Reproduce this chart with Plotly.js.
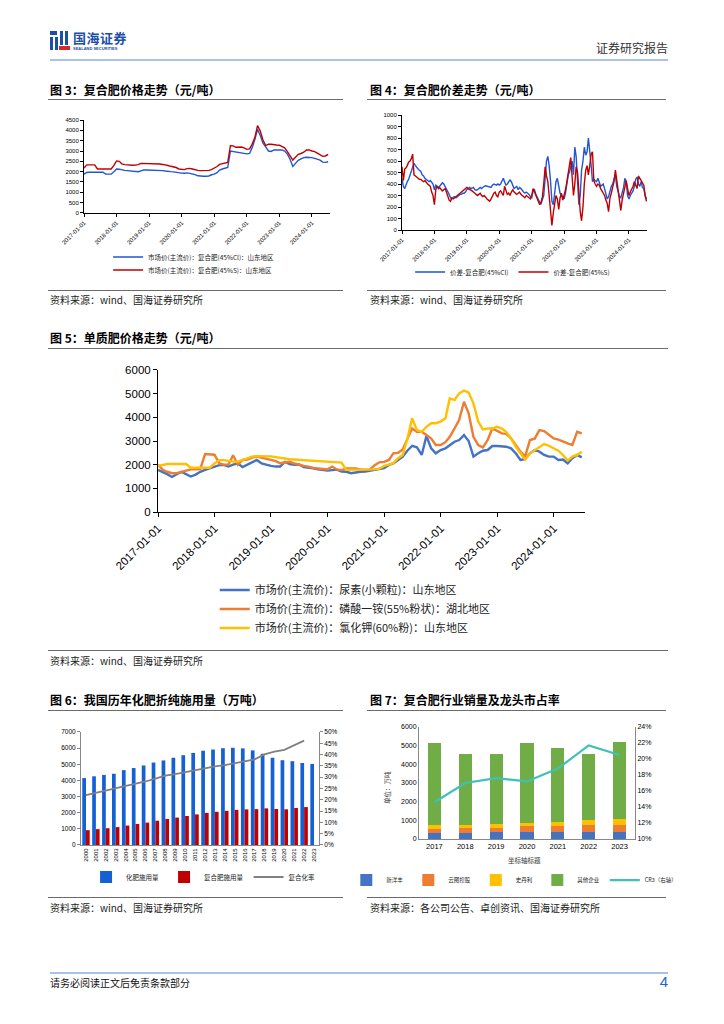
<!DOCTYPE html>
<html><head><meta charset="utf-8">
<script src="https://cdn.plot.ly/plotly-3.0.1.min.js"></script>
<style>
body{margin:0;width:724px;height:1024px;background:#fff;position:relative;overflow:hidden;font-family:'Noto Sans CJK SC',sans-serif;color:#000}
.abs{position:absolute;white-space:nowrap}
.title{font-weight:bold;font-size:12px;line-height:14px}
.rule{position:absolute;height:0;border-top:1px solid #6b6b6b}
.src{font-size:10px;line-height:12px;color:#222}
.chart{position:absolute}
</style></head><body>

<!-- header -->
<div class="abs" style="left:50px;top:31px;width:7px;height:4px;background:#1d4fa8"></div>
<div class="abs" style="left:50px;top:37px;width:3px;height:13px;background:#1d4fa8"></div>
<div class="abs" style="left:55px;top:37px;width:3px;height:13px;background:#1d4fa8"></div>
<div class="abs" style="left:60px;top:31px;width:3px;height:14px;background:#1d4fa8"></div>
<div class="abs" style="left:65px;top:31px;width:3px;height:14px;background:#1d4fa8"></div>
<div class="abs" style="left:59px;top:46px;width:11px;height:4px;background:#d8262e"></div>
<div class="abs" style="left:73px;top:30px;font-size:13px;font-weight:bold;color:#1d4fa8;line-height:15px;letter-spacing:0.5px">国海证券</div>
<div class="abs" style="left:73px;top:47px;font-size:4px;color:#1d4fa8;line-height:4px;font-family:'Liberation Sans';font-weight:bold">SEALAND SECURITIES</div>
<div class="abs" style="right:56px;top:41px;font-size:12px;line-height:14px;color:#333">证券研究报告</div>
<div class="rule" style="left:50px;top:59px;width:618px;border-top:2px solid #a8c2ea"></div>

<!-- titles -->
<div class="abs title" style="left:50px;top:83px">图 3：复合肥价格走势（元/吨）</div>
<div class="abs title" style="left:370px;top:83px">图 4：复合肥价差走势（元/吨）</div>
<div class="rule" style="left:48px;top:99px;width:295px"></div>
<div class="rule" style="left:367px;top:99px;width:299px"></div>
<div class="rule" style="left:48px;top:290px;width:295px"></div>
<div class="rule" style="left:367px;top:290px;width:299px"></div>
<div class="abs src" style="left:50px;top:294px">资料来源：wind、国海证券研究所</div>
<div class="abs src" style="left:370px;top:294px">资料来源：wind、国海证券研究所</div>

<div class="abs title" style="left:50px;top:331px">图 5：单质肥价格走势（元/吨）</div>
<div class="rule" style="left:48px;top:348px;width:620px"></div>
<div class="rule" style="left:48px;top:650px;width:620px"></div>
<div class="abs src" style="left:50px;top:655px">资料来源：wind、国海证券研究所</div>

<div class="abs title" style="left:50px;top:693px">图 6：我国历年化肥折纯施用量（万吨）</div>
<div class="abs title" style="left:370px;top:693px">图 7：复合肥行业销量及龙头市占率</div>
<div class="rule" style="left:48px;top:710px;width:295px"></div>
<div class="rule" style="left:367px;top:710px;width:299px"></div>
<div class="rule" style="left:48px;top:897px;width:295px"></div>
<div class="rule" style="left:367px;top:897px;width:299px"></div>
<div class="abs src" style="left:50px;top:902px">资料来源：wind、国海证券研究所</div>
<div class="abs src" style="left:370px;top:902px">资料来源：各公司公告、卓创资讯、国海证券研究所</div>

<div class="rule" style="left:50px;top:972px;width:618px;border-top:2px solid #a8c2ea"></div>
<div class="abs src" style="left:50px;top:977px;color:#111">请务必阅读正文后免责条款部分</div>
<div class="abs" style="right:56px;top:974px;font-size:15px;line-height:16px;color:#1f5fd6;font-family:'Liberation Sans'">4</div>

<div id="c3" class="chart" style="left:40px;top:108px;width:300px;height:180px"></div>
<div id="c4" class="chart" style="left:360px;top:108px;width:300px;height:180px"></div>
<div id="c5" class="chart" style="left:40px;top:355px;width:640px;height:290px"></div>
<div id="c6" class="chart" style="left:40px;top:715px;width:310px;height:180px"></div>
<div id="c7" class="chart" style="left:330px;top:715px;width:380px;height:180px"></div>

<script>
// ---------- data ----------
// Fig 3: monthly, 2017-01 .. 2024-07
const fig3Names = ['市场价(主流价)：复合肥(45%Cl)：山东地区', '市场价(主流价)：复合肥(45%S)：山东地区'];
const fig3Cl = [
 1880,1960,1970,1970,1970,1970,1970,1970,1880,1880,1880,2000,
 2130,2120,2080,2060,2050,2040,2020,2010,2000,2040,2080,2080,
 2080,2070,2060,2070,2060,2050,2030,2000,2000,1990,1960,1930,
 1930,1920,1940,1920,1900,1860,1800,1780,1780,1780,1790,1850,
 1880,1950,2080,2130,2160,2200,3000,2980,2960,2920,2900,2880,
 2860,2880,3150,3550,4050,3750,3380,3200,3000,2980,3050,3050,
 3050,3050,3000,2850,2600,2250,2400,2550,2620,2680,2700,2700,
 2680,2640,2600,2560,2460,2450,2480];
const fig3S = [
 2170,2330,2330,2330,2330,2130,2130,2130,2130,2130,2130,2290,
 2520,2500,2380,2340,2320,2320,2310,2320,2340,2400,2400,2400,
 2400,2400,2390,2380,2370,2350,2340,2300,2260,2240,2200,2130,
 2110,2100,2150,2160,2130,2080,2060,2050,2050,2050,2060,2100,
 2160,2250,2350,2380,2400,2450,3260,3250,3180,3190,3190,3150,
 3080,3100,3320,3650,4230,3970,3530,3260,3330,3330,3300,3290,
 3280,3210,3150,2970,2780,2560,2700,2840,2880,2940,3050,3050,
 3000,2970,2900,2810,2740,2760,2840];

// Fig 4: twice monthly (1st and 16th), 2017-01 .. 2024-07
const fig4Names = ['价差-复合肥(45%Cl)', '价差-复合肥(45%S)'];
const fig4Cl = [
 450,380, 360,400, 420,440, 480,520, 560,580, 560,540, 530,520, 510,480, 470,450, 440,430, 420,430, 410,400,
 350,390, 380,370, 380,400, 410,400, 380,360, 340,310, 280,270, 285,290, 280,290, 300,310, 310,320, 320,330,
 350,360, 370,360, 365,370, 350,345, 350,360, 370,360, 375,380, 385,380, 380,375, 370,390, 400,395, 390,400,
 390,400, 420,450, 420,390, 400,420, 435,420, 380,360, 370,380, 350,370, 360,340, 330,320, 330,320, 310,290,
 280,340, 350,310, 290,260, 240,230, 260,300, 450,600, 640,560, 420,250, 220,300, 420,450, 380,320, 300,280,
 270,320, 430,480, 500,560, 600,480, 720,640, 380,220, 300,520, 600,720, 650,680, 800,700, 560,420, 440,430,
 420,450, 410,380, 390,400, 360,300, 270,290, 340,380, 400,440, 480,380, 340,290, 280,320, 370,450, 420,300,
 270,300, 320,340, 380,440, 460,400, 380,420, 370,360, 300,270];
const fig4S = [
 550,430, 530,540, 560,590, 600,620, 660,480, 470,460, 450,440, 440,430, 420,430, 410,400, 390,380, 330,300,
 220,350, 380,360, 370,350, 340,350, 360,330, 300,260, 250,280, 270,280, 290,300, 310,320, 330,340, 350,360,
 370,360, 355,350, 340,330, 320,310, 300,310, 320,300, 290,300, 280,270, 260,250, 270,300, 320,330, 300,290,
 330,340, 320,300, 380,340, 310,320, 300,330, 350,330, 320,310, 320,330, 310,300, 290,280, 300,290, 280,270,
 300,360, 330,300, 270,250, 220,240, 290,400, 550,470, 420,300, 180,40, 150,230, 300,270, 180,280, 320,260,
 300,350, 420,480, 560,630, 420,300, 400,550, 500,300, 160,80, 200,400, 520,560, 480,560, 660,680, 430,400,
 380,400, 390,360, 340,320, 300,260, 230,160, 280,320, 360,420, 520,430, 300,230, 170,260, 330,400, 430,360,
 300,330, 350,380, 420,380, 360,470, 450,430, 420,390, 300,250];

// Fig 5: monthly, 2017-01 .. 2024-07
const fig5Names = ['市场价(主流价)：尿素(小颗粒)：山东地区', '市场价(主流价)：磷酸一铵(55%粉状)：湖北地区', '市场价(主流价)：氯化钾(60%粉)：山东地区'];
const fig5Urea = [
 1780,1700,1600,1480,1600,1700,1600,1500,1580,1700,1780,1850,
 1920,1980,1990,1920,2000,2050,1900,2000,2130,2200,2050,1990,
 1950,1920,1920,2120,2030,2000,2010,1900,1890,1850,1800,1770,
 1750,1770,1790,1710,1700,1640,1680,1700,1710,1750,1780,1800,
 1850,1990,2050,2200,2340,2600,2790,2730,2410,3210,2690,2480,
 2620,2690,2830,2970,3040,3250,3000,2340,2480,2590,2620,2790,
 2790,2760,2760,2690,2480,2200,2230,2480,2620,2550,2410,2340,
 2340,2200,2220,2060,2270,2410,2310];
const fig5MAP = [
 2000,1780,1700,1640,1640,1700,1750,1800,1800,1810,2450,2430,
 2420,2050,2000,2000,2400,2000,2200,2220,2300,2340,2300,2270,
 2200,2150,2060,2090,2120,2050,1990,1950,1920,1860,1840,1820,
 1800,1920,1800,1770,1840,1840,1840,1800,1780,1800,1980,2100,
 2120,2200,2480,2500,2640,3100,3530,3390,3390,3250,3100,2830,
 2830,2950,3180,3530,3900,4660,4170,3180,2830,2730,3040,3530,
 3430,3320,3300,3110,2830,2550,2340,3040,3100,3460,3420,3250,
 3110,3060,2970,2900,2830,3390,3320];
const fig5KCl = [
 1950,2000,2030,2030,2030,2030,2030,1870,1870,1870,1870,1870,
 2050,2190,2190,2150,2130,2130,2200,2300,2340,2360,2360,2360,
 2350,2320,2280,2260,2230,2220,2200,2190,2180,2170,2150,2130,
 2120,2110,2100,2090,1780,1780,1780,1780,1780,1790,1800,1830,
 1950,2000,2060,2270,2410,3110,3960,3460,3390,3600,3750,3750,
 3820,3960,4800,4730,5010,5130,5050,4590,3820,3490,3530,3530,
 3600,3530,3390,3110,2760,2480,2220,2480,2620,2730,2870,2800,
 2690,2590,2410,2170,2340,2410,2550];

// Fig 6
const fig6Years = ['2000','2001','2002','2003','2004','2005','2006','2007','2008','2009','2010','2011',
 '2012','2013','2014','2015','2016','2017','2018','2019','2020','2021','2022','2023'];
const fig6Total = [4146,4254,4339,4412,4637,4766,4928,5108,5239,5404,5562,5704,
 5839,5912,5996,6023,5984,5859,5653,5404,5251,5191,5079,5022];
const fig6Compound = [918,983,1040,1109,1204,1303,1385,1503,1609,1698,1798,1895,
 1990,2057,2116,2176,2207,2221,2268,2231,2209,2294,2349,null];
const fig6Rate = [0.221,0.231,0.240,0.251,0.260,0.273,0.281,0.294,0.307,0.314,0.323,0.332,
 0.341,0.348,0.353,0.361,0.369,0.379,0.401,0.413,0.421,0.442,0.462,null];
const fig6Names = ['化肥施用量','复合肥施用量','复合化率'];

// Fig 7
const fig7Years = ['2017','2018','2019','2020','2021','2022','2023'];
const fig7XYF = [330,340,350,350,380,390,400];
const fig7YT   = [220,230,250,320,310,340,370];
const fig7SDL  = [220,200,220,200,230,270,320];
const fig7Other= [4350,3770,3720,4260,3940,3560,4090];
const fig7CR3  = [0.146,0.170,0.176,0.172,0.188,0.217,0.205];
const fig7Names = ['新洋丰','云图控股','史丹利','其他企业','CR3（右轴）'];
const fig7XTitle = '坐标轴标题';
const fig7YTitle = '单位：万吨';

// ---------- helpers ----------
function monthDates(n){const o=[];for(let i=0;i<n;i++){const y=2017+Math.floor(i/12),m=i%12+1;o.push(y+'-'+String(m).padStart(2,'0')+'-01');}return o;}
function halfMonthDates(n){const o=[];for(let i=0;i<n;i++){const k=Math.floor(i/2),y=2017+Math.floor(k/12),m=k%12+1;o.push(y+'-'+String(m).padStart(2,'0')+(i%2?'-16':'-01'));}return o;}

const NUM = 'Liberation Sans, Arial, sans-serif';
const CJK = 'Noto Sans CJK SC, sans-serif';
const cfg = {displayModeBar:false, staticPlot:true};
const M0 = {l:0,r:0,t:0,b:0,pad:0};
const BG = {paper_bgcolor:'rgba(0,0,0,0)', plot_bgcolor:'rgba(0,0,0,0)'};

function dateAxis(fs,dom){return {type:'date', domain:dom, range:['2017-01-01','2024-07-22'], tick0:'2017-01-01', dtick:'M12',
  tickformat:'%Y-%m-%d', tickangle:-45, ticks:'outside', ticklen:3, tickcolor:'#000', showline:true, linecolor:'#000', linewidth:1,
  showgrid:false, zeroline:false, tickfont:{family:NUM,size:fs,color:'#000'}, automargin:false};}
function valAxis(r,d,fs,dom){return {domain:dom, range:r, dtick:d, ticks:'outside', ticklen:3, tickcolor:'#000', showline:true, linecolor:'#000', linewidth:1,
  showgrid:false, zeroline:false, tickfont:{family:NUM,size:fs,color:'#000'}, automargin:false};}
function leg(o){return Object.assign({bgcolor:'rgba(0,0,0,0)', itemwidth:30, tracegroupgap:0}, o);}

// ---------- Fig 3 ----------
const d3 = monthDates(fig3Cl.length);
Plotly.newPlot('c3', [
  {x:d3, y:fig3Cl, name:fig3Names[0], type:'scatter', mode:'lines', line:{color:'#1f55d8', width:1.4}, legend:'legend'},
  {x:d3, y:fig3S, name:fig3Names[1], type:'scatter', mode:'lines', line:{color:'#c00000', width:1.4}, legend:'legend2'}
], Object.assign({width:300, height:180, margin:M0,
  xaxis:dateAxis(6,[0.1467,0.9667]), yaxis:valAxis([0,4500],500,6,[0.4167,0.9333]),
  showlegend:true,
  legend: leg({orientation:'v', x:0.227, y:0.172, xanchor:'left', yanchor:'middle', font:{family:CJK,size:6.5,color:'#222'}}),
  legend2:leg({orientation:'v', x:0.227, y:0.10, xanchor:'left', yanchor:'middle', font:{family:CJK,size:6.5,color:'#222'}})
}, BG), cfg);

// ---------- Fig 4 ----------
const d4 = halfMonthDates(fig4Cl.length);
Plotly.newPlot('c4', [
  {x:d4, y:fig4Cl, name:fig4Names[0], type:'scatter', mode:'lines', line:{color:'#1f55d8', width:1.4}},
  {x:d4, y:fig4S, name:fig4Names[1], type:'scatter', mode:'lines', line:{color:'#c00000', width:1.4}}
], Object.assign({width:300, height:180, margin:M0,
  xaxis:dateAxis(6,[0.14,0.9567]), yaxis:valAxis([0,1000],100,6,[0.3222,0.9611]),
  showlegend:true, legend:leg({orientation:'h', x:0.167, y:0.089, xanchor:'left', yanchor:'middle', font:{family:CJK,size:6.5,color:'#222'}})
}, BG), cfg);

// ---------- Fig 5 ----------
const d5 = monthDates(fig5Urea.length);
Plotly.newPlot('c5', [
  {x:d5, y:fig5Urea, name:fig5Names[0], type:'scatter', mode:'lines', line:{color:'#4472c4', width:2.4}},
  {x:d5, y:fig5MAP, name:fig5Names[1], type:'scatter', mode:'lines', line:{color:'#ed7d31', width:2.4}},
  {x:d5, y:fig5KCl, name:fig5Names[2], type:'scatter', mode:'lines', line:{color:'#ffc000', width:2.4}}
], Object.assign({width:640, height:290, margin:M0,
  xaxis:Object.assign(dateAxis(11.5,[0.1844,0.8516]),{ticklen:4}), yaxis:Object.assign(valAxis([0,6000],1000,11.5,[0.4586,0.9483]),{ticklen:4}),
  showlegend:true, legend:leg({orientation:'v', x:0.273, y:0.124, xanchor:'left', yanchor:'middle', font:{family:CJK,size:11,color:'#222'}})
}, BG), cfg);

// ---------- Fig 6 ----------
Plotly.newPlot('c6', [
  {x:fig6Years, y:fig6Total, name:fig6Names[0], type:'bar', marker:{color:'#1660d6'}},
  {x:fig6Years, y:fig6Compound, name:fig6Names[1], type:'bar', marker:{color:'#c00000'}},
  {x:fig6Years, y:fig6Rate, name:fig6Names[2], type:'scatter', mode:'lines', yaxis:'y2', line:{color:'#808080', width:1.8}}
], Object.assign({width:310, height:180, margin:M0,
  barmode:'group', bargap:0.25, bargroupgap:0,
  xaxis:{type:'category', domain:[0.1323,0.9], tickangle:-90, ticks:'', showline:true, linecolor:'#888', linewidth:1, showgrid:false, zeroline:false, tickfont:{family:NUM,size:6,color:'#000'}, automargin:false},
  yaxis:Object.assign(valAxis([0,7000],1000,6.5,[0.2778,0.9056]),{linecolor:'#888', tickcolor:'#888'}),
  yaxis2:{overlaying:'y', side:'right', anchor:'x', range:[0,0.5], dtick:0.05, tickformat:'.0%', ticks:'outside', ticklen:3, tickcolor:'#888', showline:true, linecolor:'#888', linewidth:1, showgrid:false, zeroline:false, tickfont:{family:NUM,size:6.5,color:'#000'}, automargin:false},
  showlegend:true, legend:leg({orientation:'h', x:0.526, y:0.10, xanchor:'center', yanchor:'middle', font:{family:CJK,size:6.5,color:'#222'}})
}, BG), cfg);

// ---------- Fig 7 ----------
Plotly.newPlot('c7', [
  {x:fig7Years, y:fig7XYF, name:fig7Names[0], type:'bar', marker:{color:'#4472c4'}},
  {x:fig7Years, y:fig7YT, name:fig7Names[1], type:'bar', marker:{color:'#ed7d31'}},
  {x:fig7Years, y:fig7SDL, name:fig7Names[2], type:'bar', marker:{color:'#ffc000'}},
  {x:fig7Years, y:fig7Other, name:fig7Names[3], type:'bar', marker:{color:'#70ad47'}},
  {x:fig7Years, y:fig7CR3, name:fig7Names[4], type:'scatter', mode:'lines', yaxis:'y2', line:{color:'#3ec1b6', width:2.2}}
], Object.assign({width:380, height:180, margin:M0,
  barmode:'stack', bargap:0.57,
  xaxis:{type:'category', domain:[0.2342,0.8026], ticks:'', showline:true, linecolor:'#888', linewidth:1, showgrid:false, zeroline:false, tickfont:{family:NUM,size:7.5,color:'#000'}, automargin:false},
  yaxis:Object.assign(valAxis([0,6000],1000,7,[0.3111,0.9333]),{linecolor:'#888', tickcolor:'#888', ticks:''}),
  yaxis2:{overlaying:'y', side:'right', anchor:'x', range:[0.10,0.24], dtick:0.02, tickformat:'.0%', ticks:'', showline:true, linecolor:'#888', linewidth:1, showgrid:false, zeroline:false, tickfont:{family:NUM,size:7,color:'#000'}, automargin:false},
  annotations:[
    {text:fig7XTitle, xref:'paper', yref:'paper', x:0.513, y:0.194, xanchor:'center', yanchor:'middle', showarrow:false, font:{family:CJK,size:6.5,color:'#333'}},
    {text:fig7YTitle, xref:'paper', yref:'paper', x:0.15, y:0.594, xanchor:'center', yanchor:'middle', textangle:-90, showarrow:false, font:{family:CJK,size:6.5,color:'#333'}}
  ],
  showlegend:true, legend:leg({orientation:'h', x:0.485, y:0.083, xanchor:'center', yanchor:'middle', font:{family:CJK,size:5.5,color:'#222'}, traceorder:'normal'})
}, BG), cfg);
</script>
</body></html>
